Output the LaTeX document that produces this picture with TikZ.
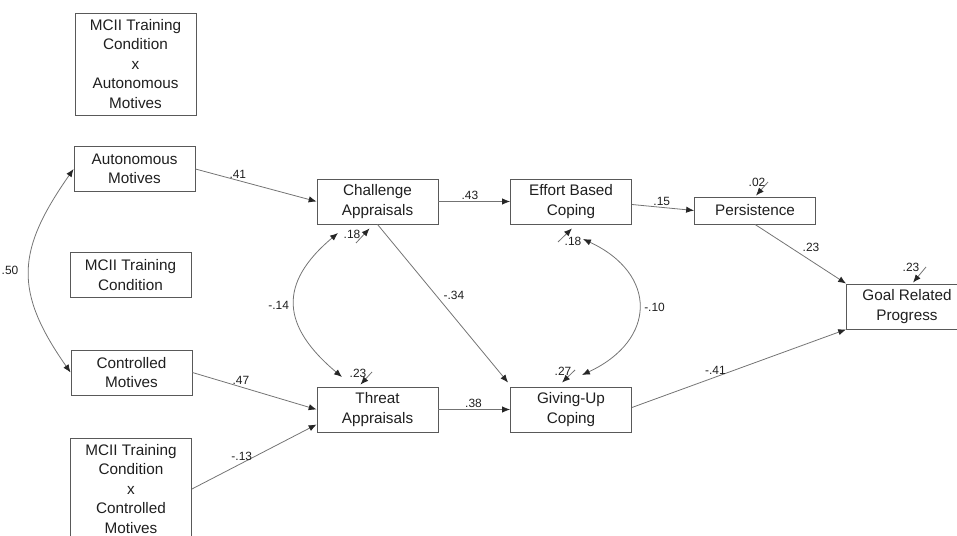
\documentclass[tikz,border=0pt]{standalone}
\usepackage{fontspec}
\setmainfont{Liberation Sans}
\usetikzlibrary{arrows.meta,calc}
\definecolor{boxgray}{gray}{0.35}
\definecolor{linegray}{gray}{0.45}
\definecolor{txtgray}{gray}{0.12}

\begin{document}
\begin{tikzpicture}[x=0.02cm, y=-0.02cm, >={Latex[length=4.5pt,width=3.6pt,color=black!85]}]
\path [use as bounding box] (0,0) rectangle (957,536);
\tikzstyle{box} = [rectangle, draw=boxgray, line width=.5pt, text=txtgray, align=center, inner sep=0pt, minimum width=2.42cm, minimum height=.9cm, font=\fontsize{8.7}{11.1}\selectfont]
\tikzstyle{arr} = [->, draw=linegray, line width=.45pt]
\tikzstyle{cov} = [<->, draw=linegray, line width=.45pt]
\tikzstyle{lbl} = [text=txtgray, inner sep=1pt, font=\fontsize{6.8}{7}\selectfont]
% boxes
\node[box, minimum height=2.04cm] (MA) at (135.5,64) {MCII Training\\Condition\\x\\Autonomous\\Motives};
\node[box] (AM) at (134.5,169) {Autonomous\\Motives};
\node[box] (MC) at (130.5,275) {MCII Training\\Condition};
\node[box] (CM) at (131.5,372.5) {Controlled\\Motives};
\node[box, minimum height=2.04cm] (MX) at (131,489) {MCII Training\\Condition\\x\\Controlled\\Motives};
\node[box] (CA) at (377.5,201.5) {Challenge\\Appraisals};
\node[box] (TA) at (377.5,409.5) {Threat\\Appraisals};
\node[box] (EB) at (571,201.5) {Effort Based\\Coping};
\node[box] (GU) at (571,409.5) {Giving-Up\\Coping};
\node[box, minimum height=.54cm] (PE) at (755,210.5) {Persistence};
\node[box] (GR) at (907,306.5) {Goal Related\\Progress};
% paths
\draw[arr] (AM.east) -- node (l41) [lbl, pos=.35, above] {.41} (CA.west);
\draw[arr] (CM.east) -- node (l47) [lbl, pos=.39, above] {.47} (TA.west);
\draw[arr] (MX.east) -- node (l13) [lbl, pos=.4, above] {-.13} ($(TA.west)+(0,15)$);
\draw[arr] (CA.east) -- node (l43) [lbl, pos=.44, above] {.43} (EB.west);
\draw[arr] (TA.east) -- node (l38) [lbl, pos=.49, above] {.38} (GU.west);
\draw[arr] (CA.south) -- node (l34) [lbl, pos=.45, right=3pt] {-.34} ($(GU.north west)+(-2,-4)$);
\draw[arr] ($(EB.east)+(0,3)$) -- node (l15) [lbl, pos=.48, above] {.15} (PE.west);
\draw[arr] (PE.south) -- node (l23) [lbl, pos=.5, above right] {.23} (GR.north west);
\draw[arr] ($(GU.east)+(0,-2)$) -- node (l41b) [lbl, pos=.39, above] {-.41} (GR.south west);
% covariances
\coordinate (cCA) at (338,233);
\coordinate (cTA) at (342,377);
\coordinate (cEB) at (583,239);
\coordinate (cGU) at (582,375);
\draw[cov] (AM.west) to[out=235, in=125, looseness=1.25] node (l50) [lbl, left=5pt] {.50} (CM.west);
\draw[cov] (cCA) to[out=220, in=140, looseness=1.4] node (l14) [lbl, left=2pt] {-.14} (cTA);
\draw[cov] (cEB) to[out=-25, in=25, looseness=1.55] node (l10) [lbl, right=2pt] {-.10} (cGU);
% residuals
\coordinate (eCA) at (356,243);
\coordinate (eTA) at (372,372);
\coordinate (eEB) at (558,242);
\coordinate (eGU) at (575,370);
\coordinate (ePE) at (768,182);
\coordinate (eGR) at (926,267);
\draw[arr] (eCA) -- ($(CA.south)+(-8,4)$);
\draw[arr] (eTA) -- ($(TA.north)+(-17,-2)$);
\draw[arr] (eEB) -- ($(EB.south)+(1,4)$);
\draw[arr] (eGU) -- ($(GU.north)+(-9,-4)$);
\draw[arr] (ePE) -- ($(PE.north)+(1,-1)$);
\draw[arr] (eGR) -- ($(GR.north)+(6,-1)$);
\node (rCA) [lbl] at (352,234) {.18};
\node (rTA) [lbl] at (358,373) {.23};
\node (rEB) [lbl] at (573,241) {.18};
\node (rGU) [lbl] at (563,371) {.27};
\node (rPE) [lbl] at (757,182) {.02};
\node (rGR) [lbl] at (911,267) {.23};
\end{tikzpicture}
\end{document}
